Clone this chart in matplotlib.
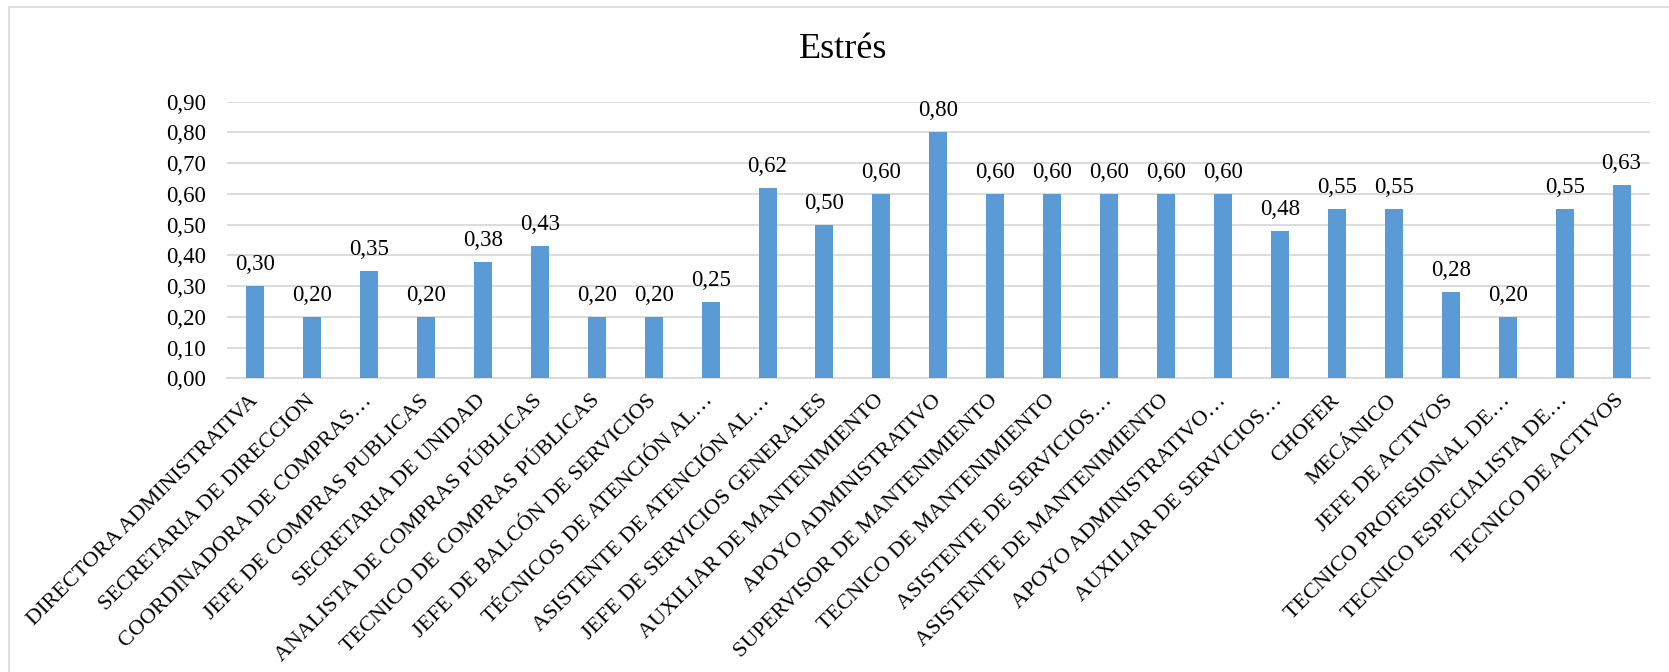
import numpy as np
import matplotlib
matplotlib.use('Agg')
import matplotlib.pyplot as plt
from matplotlib.patches import Rectangle

# Stress level per job position
puestos = ['DIRECTORA ADMINISTRATIVA', 'SECRETARIA DE DIRECCION',
           'COORDINADORA DE COMPRAS…', 'JEFE DE COMPRAS PUBLICAS',
           'SECRETARIA DE UNIDAD', 'ANALISTA DE COMPRAS PÚBLICAS',
           'TECNICO DE COMPRAS PÚBLICAS', 'JEFE DE BALCÓN DE SERVICIOS',
           'TÉCNICOS DE ATENCIÓN AL…', 'ASISTENTE DE ATENCIÓN AL…',
           'JEFE DE SERVICIOS GENERALES', 'AUXILIAR DE MANTENIMIENTO',
           'APOYO ADMINISTRATIVO', 'SUPERVISOR DE MANTENIMIENTO',
           'TECNICO DE MANTENIMIENTO', 'ASISTENTE DE SERVICIOS…',
           'ASISTENTE DE MANTENIMIENTO', 'APOYO ADMINISTRATIVO…',
           'AUXILIAR DE SERVICIOS…', 'CHOFER', 'MECÁNICO', 'JEFE DE ACTIVOS',
           'TECNICO PROFESIONAL DE…', 'TECNICO ESPECIALISTA DE…',
           'TECNICO DE ACTIVOS']
estres = [0.30, 0.20, 0.35, 0.20, 0.38, 0.43, 0.20, 0.20, 0.25, 0.62,
          0.50, 0.60, 0.80, 0.60, 0.60, 0.60, 0.60, 0.60, 0.48, 0.55,
          0.55, 0.28, 0.20, 0.55, 0.63]
yticks = [0.0, 0.1, 0.2, 0.3, 0.4, 0.5, 0.6, 0.7, 0.8, 0.9]

plt.rcParams['font.family'] = ['Liberation Serif', 'DejaVu Serif']

fig = plt.figure(figsize=(16.69, 6.72), dpi=100)
ax = fig.add_axes([0.1358, 0.4368, 0.9886 - 0.1358, 0.8487 - 0.4368])

# chart frame
fig.patches.append(Rectangle((9 / 1669, -0.5), 2, 1.5 - 6.5 / 672,
                             transform=fig.transFigure, fill=False,
                             edgecolor='#D9D9D9', linewidth=1.2))

x = np.arange(len(puestos))
ax.bar(x, estres, width=0.316, color='#5B9BD5', zorder=3)

for xi, v in zip(x, estres):
    ax.annotate(f'{v:.2f}'.replace('.', ','), (xi, v), xytext=(0, 11.5),
                textcoords='offset points', ha='center', va='baseline',
                fontsize=16.5)

ax.set_xlim(-0.5, len(puestos) - 0.5)
ax.set_ylim(0, 0.9)
ax.set_yticks(yticks)
ax.set_yticklabels([f'{t:.2f}'.replace('.', ',') for t in yticks])
ax.set_xticks(x)
ax.set_xticklabels(puestos, rotation=45, ha='right', rotation_mode='anchor',
                   va='center')
ax.tick_params(axis='y', length=0, pad=15, labelsize=16.5)
ax.tick_params(axis='x', length=0, pad=14, labelsize=16)

ax.grid(axis='y', color='#D9D9D9', linewidth=1.3, zorder=0)
for s in ['top', 'right', 'left']:
    ax.spines[s].set_visible(False)
ax.spines['bottom'].set_color('#D9D9D9')
ax.spines['bottom'].set_linewidth(1.3)

fig.text(0.505, 0.926, 'Estrés', ha='center', va='center', fontsize=26)

fig.savefig('out.png', dpi=100)
